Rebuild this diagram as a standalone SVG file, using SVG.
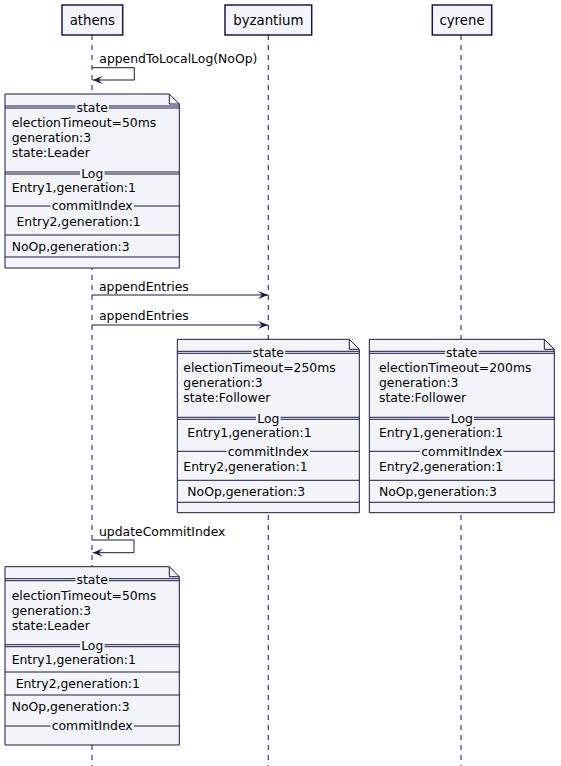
<svg xmlns="http://www.w3.org/2000/svg" width="561" height="766" viewBox="0 0 561 766">
<style>
text{font-family:"DejaVu Sans","Liberation Sans",sans-serif;fill:#000}
.hd{font-size:13.3px;text-anchor:middle}
.msg{font-size:12.4px}
.nt{font-size:12.4px}
.c{text-anchor:middle}
.box{fill:#F4F5FB;stroke:#181848;stroke-width:1.5}
.note{fill:#F4F5FB;stroke:#181848;stroke-width:1}
.sep{stroke:#181848;stroke-width:1;fill:none}
.gap{fill:#F4F5FB;stroke:none}
.life{stroke:#181848;stroke-width:1;stroke-dasharray:5,5;fill:none}
.arr{stroke:#181848;stroke-width:1;fill:none}
</style>
<defs>
<marker id="ah" viewBox="0 0 10 8" refX="10" refY="4" markerWidth="10" markerHeight="8" markerUnits="userSpaceOnUse" orient="auto">
<path d="M0,0 L10,4 L0,8 L4,4 Z" fill="#181848"/>
</marker>
</defs>

<g id="lifelines">
<line class="life" x1="92" y1="35" x2="92" y2="766"/>
<line class="life" x1="268.3" y1="35" x2="268.3" y2="766"/>
<line class="life" x1="461" y1="35" x2="461" y2="766"/>
</g>

<g id="athens">
<rect class="box" x="62" y="5" width="60.7" height="30"/>
<text class="hd" x="92.3" y="25">athens</text>
</g>
<g id="byzantium">
<rect class="box" x="225" y="5" width="86.7" height="30"/>
<text class="hd" x="268.3" y="25">byzantium</text>
</g>
<g id="cyrene">
<rect class="box" x="432.3" y="5" width="59.4" height="30"/>
<text class="hd" x="462" y="25">cyrene</text>
</g>

<g id="connectors">
<path class="arr" d="M92,67.7 H134.3 V80 H92.7" marker-end="url(#ah)"/>
<text class="msg" x="99.3" y="63">appendToLocalLog(NoOp)</text>
<line class="arr" x1="92" y1="295" x2="268" y2="295" marker-end="url(#ah)"/>
<text class="msg" x="99" y="291">appendEntries</text>
<line class="arr" x1="92" y1="325" x2="268" y2="325" marker-end="url(#ah)"/>
<text class="msg" x="99" y="320">appendEntries</text>
<path class="arr" d="M92,540 H134 V552.7 H92.7" marker-end="url(#ah)"/>
<text class="msg" x="99" y="535.5">updateCommitIndex</text>
</g>

<g id="note-athens-1">
<path class="note" d="M5,94 H169.3 L179.3,104 V268 H5 Z"/>
<path class="sep" d="M169.3,94 V104 H179.3"/>
<path class="sep" d="M5,106 H179.3 M5,108 H179.3"/>
<rect class="gap" x="75.5" y="100" width="33.5" height="10"/>
<text class="nt c" x="92.2" y="111.5">state</text>
<text class="nt" x="11.7" y="127">electionTimeout=50ms</text>
<text class="nt" x="11.7" y="142">generation:3</text>
<text class="nt" x="11.7" y="157">state:Leader</text>
<path class="sep" d="M5,172 H179.3 M5,174 H179.3"/>
<rect class="gap" x="80" y="168" width="24.5" height="10"/>
<text class="nt c" x="92.2" y="177.5">Log</text>
<text class="nt" x="11.7" y="191.5">Entry1,generation:1</text>
<path class="sep" d="M5,206 H179.3"/>
<rect class="gap" x="50.5" y="200" width="83.4" height="10"/>
<text class="nt c" x="92.2" y="210.3">commitIndex</text>
<text class="nt" x="16.5" y="226">Entry2,generation:1</text>
<path class="sep" d="M5,235 H179.3"/>
<text class="nt" x="11.7" y="250.5">NoOp,generation:3</text>
<path class="sep" d="M5,257 H179.3"/>
</g>

<g id="note-byzantium">
<path class="note" d="M177.3,339.3 H349.3 L359.3,349.3 V512.7 H177.3 Z"/>
<path class="sep" d="M349.3,339.3 V349.3 H359.3"/>
<path class="sep" d="M177.3,351.3 H359.3 M177.3,353.3 H359.3"/>
<rect class="gap" x="251.6" y="345.3" width="33.5" height="10"/>
<text class="nt c" x="268.3" y="356.8">state</text>
<text class="nt" x="183.3" y="372.3">electionTimeout=250ms</text>
<text class="nt" x="183.3" y="387.3">generation:3</text>
<text class="nt" x="183.3" y="402.3">state:Follower</text>
<path class="sep" d="M177.3,417.3 H359.3 M177.3,419.3 H359.3"/>
<rect class="gap" x="256" y="413.3" width="24.5" height="10"/>
<text class="nt c" x="268.3" y="422.8">Log</text>
<text class="nt" x="187.3" y="436.8">Entry1,generation:1</text>
<path class="sep" d="M177.3,451.3 H359.3"/>
<rect class="gap" x="226.6" y="445.3" width="83.4" height="10"/>
<text class="nt c" x="268.3" y="455.6">commitIndex</text>
<text class="nt" x="183.3" y="471.3">Entry2,generation:1</text>
<path class="sep" d="M177.3,480.3 H359.3"/>
<text class="nt" x="187.3" y="495.8">NoOp,generation:3</text>
<path class="sep" d="M177.3,502.3 H359.3"/>
</g>

<g id="note-cyrene">
<path class="note" d="M369.3,339.3 H544.3 L554.3,349.3 V512.7 H369.3 Z"/>
<path class="sep" d="M544.3,339.3 V349.3 H554.3"/>
<path class="sep" d="M369.3,351.3 H554.3 M369.3,353.3 H554.3"/>
<rect class="gap" x="445.1" y="345.3" width="33.5" height="10"/>
<text class="nt c" x="461.8" y="356.8">state</text>
<text class="nt" x="379" y="372.3">electionTimeout=200ms</text>
<text class="nt" x="379" y="387.3">generation:3</text>
<text class="nt" x="379" y="402.3">state:Follower</text>
<path class="sep" d="M369.3,417.3 H554.3 M369.3,419.3 H554.3"/>
<rect class="gap" x="449.5" y="413.3" width="24.5" height="10"/>
<text class="nt c" x="461.8" y="422.8">Log</text>
<text class="nt" x="379" y="436.8">Entry1,generation:1</text>
<path class="sep" d="M369.3,451.3 H554.3"/>
<rect class="gap" x="420.1" y="445.3" width="83.4" height="10"/>
<text class="nt c" x="461.8" y="455.6">commitIndex</text>
<text class="nt" x="379" y="471.3">Entry2,generation:1</text>
<path class="sep" d="M369.3,480.3 H554.3"/>
<text class="nt" x="379" y="495.8">NoOp,generation:3</text>
<path class="sep" d="M369.3,502.3 H554.3"/>
</g>

<g id="note-athens-2">
<path class="note" d="M5,566.7 H169.3 L179.3,576.7 V745 H5 Z"/>
<path class="sep" d="M169.3,566.7 V576.7 H179.3"/>
<path class="sep" d="M5,578.7 H179.3 M5,580.7 H179.3"/>
<rect class="gap" x="75.5" y="572.7" width="33.5" height="10"/>
<text class="nt c" x="92.2" y="584.2">state</text>
<text class="nt" x="11.7" y="599.7">electionTimeout=50ms</text>
<text class="nt" x="11.7" y="614.7">generation:3</text>
<text class="nt" x="11.7" y="629.7">state:Leader</text>
<path class="sep" d="M5,644.7 H179.3 M5,646.7 H179.3"/>
<rect class="gap" x="80" y="640.7" width="24.5" height="10"/>
<text class="nt c" x="92.2" y="650.2">Log</text>
<text class="nt" x="11.7" y="664.2">Entry1,generation:1</text>
<path class="sep" d="M5,672 H179.3"/>
<text class="nt" x="15.7" y="688">Entry2,generation:1</text>
<path class="sep" d="M5,695 H179.3"/>
<text class="nt" x="11.7" y="711">NoOp,generation:3</text>
<path class="sep" d="M5,726 H179.3"/>
<rect class="gap" x="50.5" y="720" width="83.4" height="10"/>
<text class="nt c" x="92.2" y="730.3">commitIndex</text>
</g>
</svg>
